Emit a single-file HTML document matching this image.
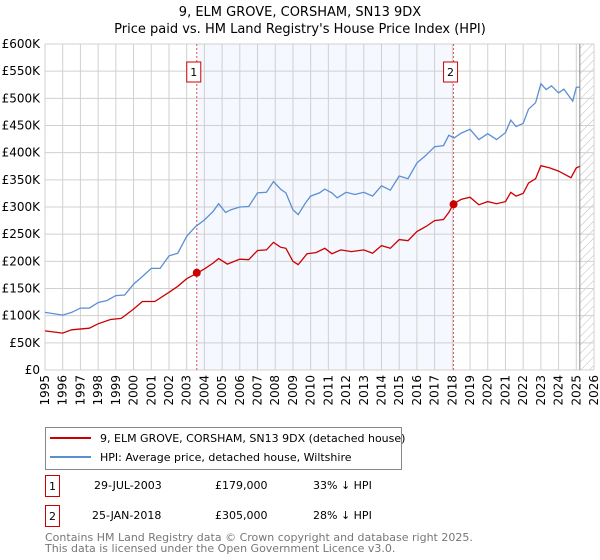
<!DOCTYPE html>
<html><head><meta charset="utf-8"><style>
body{margin:0;background:#fff;font-family:"Liberation Sans","DejaVu Sans",sans-serif;}
svg{display:block}
</style></head><body>
<svg id="chart" width="600" height="560" xmlns="http://www.w3.org/2000/svg" font-family="DejaVu Sans, Liberation Sans, sans-serif">
<defs><pattern id="hatch" width="6" height="6" patternUnits="userSpaceOnUse" patternTransform="rotate(45)"><line x1="0" y1="0" x2="0" y2="6" stroke="#bbb" stroke-width="1"/></pattern></defs>
<text x="300" y="16" text-anchor="middle" font-size="13">9, ELM GROVE, CORSHAM, SN13 9DX</text>
<text x="300" y="33" text-anchor="middle" font-size="13">Price paid vs. HM Land Registry's House Price Index (HPI)</text>
<g id="grid"></g>
<g id="marks"></g>
<g id="legend">
<rect x="45.5" y="427.5" width="356" height="42" fill="#fff" stroke="#888"/>
<line x1="50" y1="438" x2="91" y2="438" stroke="#cc0000" stroke-width="2"/>
<text x="100" y="442" font-size="11">9, ELM GROVE, CORSHAM, SN13 9DX (detached house)</text>
<line x1="50" y1="457" x2="91" y2="457" stroke="#5b8fd4" stroke-width="2"/>
<text x="100" y="461" font-size="11">HPI: Average price, detached house, Wiltshire</text>
</g>
<g font-size="11">
<rect x="45.5" y="475.5" width="14" height="21" fill="none" stroke="#cc0000"/>
<text x="52.5" y="490" text-anchor="middle">1</text>
<text x="94" y="489">29-JUL-2003</text><text x="215" y="489">£179,000</text><text x="313" y="489">33% ↓ HPI</text>
<rect x="45.5" y="505.5" width="14" height="21" fill="none" stroke="#cc0000"/>
<text x="52.5" y="520" text-anchor="middle">2</text>
<text x="92" y="519">25-JAN-2018</text><text x="215" y="519">£305,000</text><text x="313" y="519">28% ↓ HPI</text>
</g>
<text x="45" y="541" font-size="11" fill="#777">Contains HM Land Registry data © Crown copyright and database right 2025.</text>
<text x="45" y="552" font-size="11" fill="#777">This data is licensed under the Open Government Licence v3.0.</text>
</svg>
<script>
const yTicks=[0,50,100,150,200,250,300,350,400,450,500,550,600];
const yTickLabels=["£0","£50K","£100K","£150K","£200K","£250K","£300K","£350K","£400K","£450K","£500K","£550K","£600K"];
const xYears=[1995,1996,1997,1998,1999,2000,2001,2002,2003,2004,2005,2006,2007,2008,2009,2010,2011,2012,2013,2014,2015,2016,2017,2018,2019,2020,2021,2022,2023,2024,2025,2026];
const hpiT=[1995,1996,1996.5,1997,1997.5,1998,1998.5,1999,1999.5,2000,2000.5,2001,2001.5,2002,2002.5,2003,2003.5,2004,2004.5,2004.8,2005.2,2005.5,2006,2006.5,2007,2007.5,2007.9,2008.3,2008.6,2009,2009.3,2009.7,2010,2010.5,2010.8,2011.2,2011.5,2012,2012.5,2013,2013.5,2014,2014.5,2015,2015.5,2016,2016.5,2017,2017.5,2017.8,2018.1,2018.5,2019,2019.5,2020,2020.5,2021,2021.3,2021.6,2022,2022.3,2022.7,2023,2023.3,2023.6,2024,2024.3,2024.8,2025,2025.2];
const hpiV=[106,101,106,114,114,124,128,137,138,158,172,187,187,210,215,246,264,276,292,306,290,295,300,301,326,327,347,333,326,295,286,307,320,326,333,326,317,327,323,327,320,339,331,357,352,381,395,411,413,432,427,436,443,424,435,424,437,460,448,454,480,492,527,516,523,510,517,495,520,521];
const ppT=[1995,1996,1996.5,1997.5,1998,1998.7,1999.3,2000,2000.5,2001.2,2002,2002.5,2003,2003.57,2004,2004.5,2004.8,2005.3,2006,2006.5,2007,2007.5,2007.9,2008.3,2008.6,2009,2009.3,2009.8,2010.3,2010.8,2011.2,2011.7,2012.3,2013,2013.5,2014,2014.5,2015,2015.5,2016,2016.5,2017,2017.5,2017.8,2018.07,2018.5,2019,2019.5,2020,2020.5,2021,2021.3,2021.6,2022,2022.3,2022.7,2023,2023.5,2024,2024.3,2024.7,2025,2025.2];
const ppV=[72,68,74,77,85,93,95,112,126,126,143,154,168,178,186,197,205,195,204,203,220,221,235,226,224,200,194,214,216,224,214,221,218,221,215,229,224,240,238,255,264,275,277,290,306,314,318,304,310,306,310,327,320,325,344,352,376,372,366,361,354,372,375];
const saleT=[2003.57,2018.07];
const saleV=[179,305];
const saleLabels=["1","2"];
const X0=45,X1=594,Y0=370,Y1=44;
const xs=t=>X0+(t-1995)/(2026-1995)*(X1-X0);
const ys=v=>Y0-v/600*(Y0-Y1);
const NS="http://www.w3.org/2000/svg";
function mk(tag,attrs,parent){const e=document.createElementNS(NS,tag);for(const k in attrs)e.setAttribute(k,attrs[k]);parent.appendChild(e);return e;}
const grid=document.getElementById('grid'),marks=document.getElementById('marks');
let sh=mk('rect',{x:xs(saleT[0]),y:Y1,width:xs(saleT[1])-xs(saleT[0]),height:Y0-Y1,fill:'#f5f8fe'},grid);


let hx=xs(2025.2);
let ha=mk('rect',{x:hx,y:Y1,width:X1-hx,height:Y0-Y1,fill:'url(#hatch)'},grid);


xYears.forEach(yr=>{
 const x=xs(yr);
 const l=mk('line',{x1:x,y1:Y1,x2:x,y2:Y0,stroke:'#d0d0d0','stroke-width':1},grid);
 
 
 const t=mk('text',{x:0,y:0,'font-size':12,'text-anchor':'end',transform:`translate(${x+4},${Y0+5}) rotate(-90)`},grid);
 
 
 t.textContent=yr;
});
yTicks.forEach((v,i)=>{
 const y=ys(v);
 const l=mk('line',{x1:X0,y1:y,x2:X1,y2:y,stroke:'#d0d0d0','stroke-width':1},grid);
 
 
 const t=mk('text',{x:X0-5,y:y+4,'font-size':12,'text-anchor':'end'},grid);
 
 
 t.textContent=yTickLabels[i];
});
let dl=mk('line',{x1:hx,y1:Y1,x2:hx,y2:Y0,stroke:'#888','stroke-width':1},grid);


saleT.forEach((t,i)=>{
 const x=xs(t);
 const l=mk('line',{x1:x,y1:Y1,x2:x,y2:Y0,stroke:'#e05050','stroke-width':1,'stroke-dasharray':'2,2'},marks);
 
 
 const b=mk('rect',{x:x-10,y:62,width:14,height:20,fill:'#fff',stroke:'#cc0000'},marks);
 
 
 const tx=mk('text',{x:x-3,y:76,'font-size':11,'text-anchor':'middle'},marks);
 
 
 tx.textContent=saleLabels[i];
});
const path=(T,V)=>T.map((t,i)=>(i?'L':'M')+xs(t).toFixed(1)+','+ys(V[i]).toFixed(1)).join('');
let hp=mk('path',{d:path(hpiT,hpiV),fill:'none',stroke:'#5b8fd4','stroke-width':1.3},marks);


let pp=mk('path',{d:path(ppT,ppV),fill:'none',stroke:'#cc0000','stroke-width':1.3},marks);


saleT.forEach((t,i)=>{
 const c=mk('circle',{cx:xs(t),cy:ys(saleV[i]),r:4,fill:'#cc0000'},marks);
 
 
});
</script>
</body></html>
